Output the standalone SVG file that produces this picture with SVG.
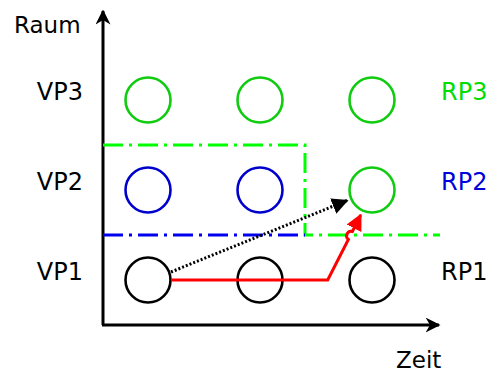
<svg xmlns="http://www.w3.org/2000/svg" width="493" height="376" viewBox="0 0 493 376">
<style>
text{font-family:"DejaVu Sans","Liberation Sans",sans-serif;font-size:24px}
.vp{text-anchor:end;fill:#000}
.ax{font-size:23px}
.c{fill:none;stroke-width:2.6}
.g{stroke:#10cc10}.b{stroke:#0000cc}.k{stroke:#000}
.dd{fill:none;stroke-width:3;stroke-dasharray:20 6 3 6}
</style>
<defs>
<marker id="ah" viewBox="0 0 10 10" refX="9" refY="5" markerWidth="5" markerHeight="5" orient="auto" markerUnits="strokeWidth"><path d="M0,0 L10,5 L0,10 L3,5 Z" fill="#000"/></marker>
<marker id="ahr" viewBox="0 0 10 10" refX="9" refY="5" markerWidth="5.5" markerHeight="5.5" orient="auto" markerUnits="strokeWidth"><path d="M0,0 L10,5 L0,10 Z" fill="#f00"/></marker>
<marker id="ahk" viewBox="0 0 10 10" refX="9" refY="5" markerWidth="5.5" markerHeight="5.5" orient="auto" markerUnits="strokeWidth"><path d="M0,0 L10,5 L0,10 Z" fill="#000"/></marker>
</defs>
<g id="axes">
<path d="M103,325 V11" stroke="#000" stroke-width="3" marker-end="url(#ah)"/>
<path d="M102,325 H439" stroke="#000" stroke-width="3" marker-end="url(#ah)"/>
<text class="ax" x="14" y="33">Raum</text>
<text class="ax" x="396" y="368">Zeit</text>
</g>
<g id="labels">
<text class="vp" x="83" y="100">VP3</text>
<text class="vp" x="83" y="190">VP2</text>
<text class="vp" x="83" y="280">VP1</text>
<text x="441" y="100" fill="#00dd00">RP3</text>
<text x="441" y="190" fill="#0000dd">RP2</text>
<text x="441" y="280" fill="#000">RP1</text>
</g>
<g id="regions">
<path class="dd" d="M103,145 H305 V235 H440" stroke="#00ff00"/>
<path class="dd" d="M103,235 H305" stroke="#0000ee"/>
</g>
<g id="row3">
<circle id="n31" class="c g" cx="148" cy="100" r="22.5"/>
<circle id="n32" class="c g" cx="260" cy="100" r="22.5"/>
<circle id="n33" class="c g" cx="372" cy="100" r="22.5"/>
</g>
<g id="row2">
<circle id="n21" class="c b" cx="148" cy="190" r="22.5"/>
<circle id="n22" class="c b" cx="260" cy="190" r="22.5"/>
<circle id="n23" class="c g" cx="372" cy="190" r="22.5"/>
</g>
<g id="row1">
<circle id="n11" class="c k" cx="148" cy="280" r="22.5"/>
<circle id="n12" class="c k" cx="260" cy="280" r="22.5"/>
<circle id="n13" class="c k" cx="372" cy="280" r="22.5"/>
</g>
<g id="connectors">
<path d="M171,280 H327.7 L348.4,239.4 A4.5,4.5 0 0 1 352.4,231.5 L360.7,215" fill="none" stroke="#f00" stroke-width="3" marker-end="url(#ahr)"/>
<path d="M171,272 L347,200.5" fill="none" stroke="#000" stroke-width="3" stroke-dasharray="2 2" marker-end="url(#ahk)"/>
</g>
</svg>
